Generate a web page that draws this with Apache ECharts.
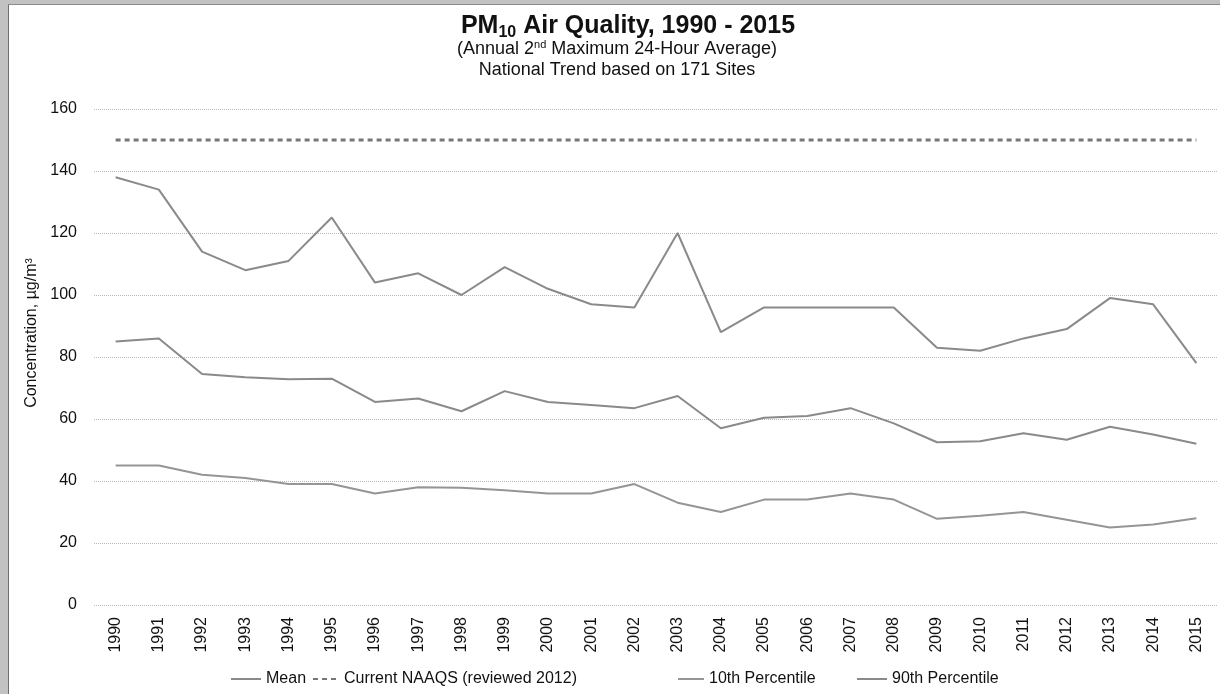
<!DOCTYPE html>
<html>
<head>
<meta charset="utf-8">
<script src="https://cdn.jsdelivr.net/npm/echarts@6/dist/echarts.min.js"></script>
<style>
html,body{margin:0;padding:0;background:#fff;}
#chart{width:1220px;height:694px;}
</style>
</head>
<body>
<div id="chart"></div>
<script>
// years on the x axis
var years=['1990','1991','1992','1993','1994','1995','1996','1997','1998','1999','2000','2001','2002',
           '2003','2004','2005','2006','2007','2008','2009','2010','2011','2012','2013','2014','2015'];
// concentration values, ug/m3
var meanVals=[85,86,74.5,73.5,72.8,73,65.5,66.6,62.5,69,65.5,64.5,63.5,67.4,57,60.4,61,63.5,58.6,52.5,52.8,55.4,53.3,57.5,55,52];
var p10Vals=[45,45,42,41,39,39,36,38,37.8,37,36,36,39,33,30,34,34,36,34,27.8,28.8,30,27.5,25,26,28];
var p90Vals=[138,134,114,108,111,125,104,107,100,109,102,97,96,120,88,96,96,96,96,83,82,86,89,99,97,78];
var naaqsVals=[150,150,150,150,150,150,150,150,150,150,150,150,150,150,150,150,150,150,150,150,150,150,150,150,150,150];
var yTicks=[0,160,20]; // min, max, step

var myChart=echarts.init(document.getElementById('chart'));
var font='Liberation Sans, Arial, sans-serif';
var lineGray='#8a8a8a';
var legText={fontSize:16,color:'#111'};

var option={
    animation:false,
    backgroundColor:'#fff',
    textStyle:{fontFamily:font},
    title:[
        {
            text:'{b|PM}{s|10}{b| Air Quality, 1990 - 2015}',
            left:628,top:11,textAlign:'center',padding:0,
            textStyle:{
                rich:{
                    b:{fontSize:25,fontWeight:'bold',color:'#111',fontFamily:font,lineHeight:30},
                    s:{fontSize:16,fontWeight:'bold',color:'#111',fontFamily:font,lineHeight:14,verticalAlign:'bottom'}
                }
            }
        },
        {
            text:'{t|(Annual 2}{u|nd}{t| Maximum 24-Hour Average)}',
            left:617,top:39,textAlign:'center',padding:0,
            textStyle:{
                fontWeight:'normal',
                rich:{
                    t:{fontSize:18,fontWeight:'normal',color:'#111',fontFamily:font,lineHeight:20},
                    u:{fontSize:11,fontWeight:'normal',color:'#111',fontFamily:font,lineHeight:10,verticalAlign:'top'}
                }
            }
        },
        {
            text:'National Trend based on 171 Sites',
            left:617,top:60,textAlign:'center',padding:0,
            textStyle:{fontSize:18,fontWeight:'normal',color:'#111',fontFamily:font,lineHeight:20}
        }
    ],
    legend:[
        {data:['Mean'],left:230,top:671,padding:0,itemWidth:30,itemHeight:14,itemStyle:{opacity:0},textStyle:legText},
        {data:['Current NAAQS (reviewed 2012)'],left:312,top:671,padding:0,itemWidth:26,itemHeight:14,itemStyle:{opacity:0},textStyle:legText},
        {data:['10th Percentile'],left:677,top:671,padding:0,itemWidth:26,itemHeight:14,itemStyle:{opacity:0},textStyle:legText},
        {data:['90th Percentile'],left:856,top:671,padding:0,itemWidth:30,itemHeight:14,itemStyle:{opacity:0},textStyle:legText}
    ],
    grid:{left:94,right:2,top:109,bottom:89,containLabel:false},
    xAxis:{
        type:'category',
        data:years,
        boundaryGap:true,
        axisLine:{show:false},
        axisTick:{show:false},
        axisLabel:{rotate:90,fontSize:16,color:'#111',margin:12,interval:0}
    },
    yAxis:{
        type:'value',
        min:yTicks[0],max:yTicks[1],interval:yTicks[2],
        axisLine:{show:false},
        axisTick:{show:false},
        axisLabel:{fontSize:16,color:'#111',margin:17},
        splitLine:{lineStyle:{color:'#b8b8b8',type:'dotted',width:1}}
    },
    graphic:[
        {type:'rect',shape:{x:0,y:0,width:1220,height:4},style:{fill:'#c2c2c2'},silent:true},
        {type:'rect',shape:{x:0,y:0,width:8,height:694},style:{fill:'#c2c2c2'},silent:true},
        {type:'line',shape:{x1:8.5,y1:4,x2:8.5,y2:694},style:{stroke:'#6e6e6e',lineWidth:1},silent:true},
        {type:'line',shape:{x1:8,y1:4.5,x2:1220,y2:4.5},style:{stroke:'#8a8a8a',lineWidth:1},silent:true},
        {
            type:'text',x:32,y:333,rotation:Math.PI/2,
            style:{text:'Concentration, µg/m³',fontSize:16,fill:'#111',fontFamily:font,align:'center',verticalAlign:'middle'}
        }
    ],
    series:[
        {name:'Mean',type:'line',data:meanVals,symbol:'none',
         lineStyle:{color:lineGray,width:2},itemStyle:{color:lineGray}},
        {name:'Current NAAQS (reviewed 2012)',type:'line',data:naaqsVals,symbol:'none',
         lineStyle:{color:'#777777',width:3,type:[5,4]},itemStyle:{color:'#777777'}},
        {name:'10th Percentile',type:'line',data:p10Vals,symbol:'none',
         lineStyle:{color:'#959595',width:2},itemStyle:{color:'#959595'}},
        {name:'90th Percentile',type:'line',data:p90Vals,symbol:'none',
         lineStyle:{color:lineGray,width:2},itemStyle:{color:lineGray}}
    ]
};
myChart.setOption(option);
</script>
</body>
</html>
